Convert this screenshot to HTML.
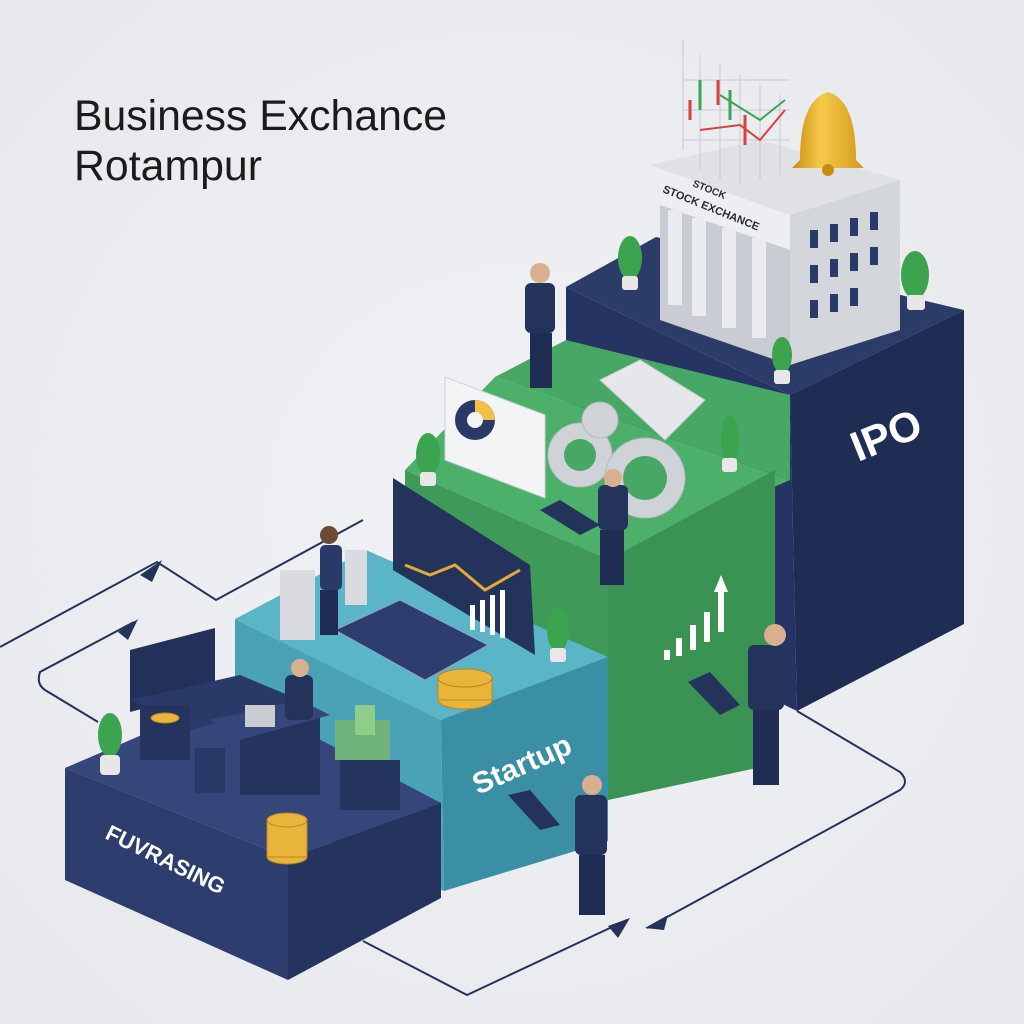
<!DOCTYPE html>
<html><head><meta charset="utf-8"><style>
html,body{margin:0;padding:0;background:#eceef2;}
svg{display:block}
</style></head><body>
<svg width="1024" height="1024" viewBox="0 0 1024 1024" xmlns="http://www.w3.org/2000/svg" font-family="Liberation Sans, sans-serif">
<defs>
<radialGradient id="bg" cx="50%" cy="50%" r="70%"><stop offset="0" stop-color="#f1f2f5"/><stop offset="1" stop-color="#e6e8ec"/></radialGradient>
<linearGradient id="bell" x1="0" x2="1"><stop offset="0" stop-color="#c98a10"/><stop offset=".4" stop-color="#f6c94a"/><stop offset="1" stop-color="#d39a1c"/></linearGradient>
</defs>
<rect width="1024" height="1024" fill="url(#bg)"/>
<text x="74" y="130" font-size="43" fill="#1b1b1d" textLength="373" lengthAdjust="spacingAndGlyphs">Business Exchance</text>
<text x="74" y="180" font-size="43" fill="#1b1b1d" textLength="188" lengthAdjust="spacingAndGlyphs">Rotampur</text>

<!-- connector lines -->
<g fill="none" stroke="#24335a" stroke-width="2">
<polyline points="0,647 157,562 216,600 363,520"/>
<path d="M98,722 L45,690 Q36,684 40,672 L134,622"/>
<polyline points="363,941 467,995 627,920"/>
<path d="M647,928 L900,790 Q910,782 900,772 L797,711"/>
</g>
<g fill="#24335a">
<polygon points="140,575 162,560 152,582"/>
<polygon points="118,632 138,619 128,640"/>
<polygon points="608,926 630,918 618,938"/>
<polygon points="645,928 668,915 664,930"/>
</g>

<!-- IPO navy block -->
<polygon points="566,287 656,237 964,310 790,395" fill="#2c3c68"/>
<polygon points="790,395 964,310 964,624 797,711" fill="#1f2c54"/>
<polygon points="566,287 790,395 797,711 566,600" fill="#253463"/>
<text x="0" y="0" font-size="42" font-weight="bold" fill="#fff" transform="translate(858,462) rotate(-22)">IPO</text>

<!-- green block -->
<polygon points="405,470 495,377 790,480 608,560" fill="#4caf6a"/>
<polygon points="495,377 566,340 790,395 790,480" fill="#47a764"/>
<polygon points="608,560 775,470 775,764 608,800" fill="#3a9253"/>
<polygon points="405,470 608,560 608,800 405,700" fill="#3f9a59"/>
<g fill="#fff"><rect x="664" y="650" width="6" height="10"/><rect x="676" y="638" width="6" height="18"/><rect x="690" y="625" width="6" height="25"/><rect x="704" y="612" width="6" height="30"/><rect x="718" y="590" width="6" height="42"/><polygon points="714,592 728,592 721,575"/></g>

<!-- teal block -->
<polygon points="235,619 366,550 608,657 441,720" fill="#5ab5c6"/>
<polygon points="441,720 608,657 608,841 444,891" fill="#3a8fa5"/>
<polygon points="235,619 441,720 444,891 235,800" fill="#4aa2b6"/>
<text x="0" y="0" font-size="30" font-weight="bold" fill="#fff" transform="translate(478,795) rotate(-24)">Startup</text>

<!-- fundraising navy block -->
<polygon points="65,768 235,695 441,803 288,858" fill="#34467a"/>
<polygon points="65,768 288,858 288,980 65,880" fill="#2d3e6e"/>
<polygon points="288,858 441,803 441,898 288,980" fill="#25345f"/>
<text x="0" y="0" font-size="22" font-weight="bold" fill="#fff" transform="translate(104,838) rotate(26)">FUVRASING</text>

<!-- desk scene -->
<polygon points="130,650 215,628 215,690 130,712" fill="#22305a"/>
<polygon points="130,700 240,675 300,700 190,730" fill="#2a3a68"/>
<rect x="140" y="705" width="50" height="55" fill="#25345f"/>
<rect x="240" y="715" width="80" height="80" fill="#25345f"/>
<polygon points="210,720 300,700 330,715 240,740" fill="#34467a"/>
<rect x="245" y="705" width="30" height="22" fill="#c9ccd3"/>
<rect x="285" y="675" width="28" height="45" rx="6" fill="#24335a"/>
<circle cx="300" cy="668" r="9" fill="#d9b08f"/>
<rect x="195" y="748" width="30" height="45" fill="#2a3a68"/>
<rect x="340" y="760" width="60" height="50" fill="#26355f"/>
<rect x="335" y="720" width="55" height="40" fill="#6fb27a"/>
<rect x="355" y="705" width="20" height="30" fill="#8fcd8b"/>
<g fill="#e8b53a" stroke="#b8861e" stroke-width="1">
<ellipse cx="287" cy="857" rx="20" ry="7"/><rect x="267" y="820" width="40" height="37"/><ellipse cx="287" cy="820" rx="20" ry="7"/>
<ellipse cx="465" cy="700" rx="27" ry="9"/><rect x="438" y="678" width="54" height="22"/><ellipse cx="465" cy="678" rx="27" ry="9"/>
<ellipse cx="165" cy="718" rx="14" ry="5"/>
</g>
<ellipse cx="110" cy="735" rx="12" ry="22" fill="#3ca34f"/><rect x="100" y="755" width="20" height="20" rx="4" fill="#e7e7e7"/>

<!-- teal-top items -->
<polygon points="393,478 530,565 535,655 393,570" fill="#24335a"/>
<polyline points="405,565 430,575 455,565 485,590 520,570" fill="none" stroke="#e3a93a" stroke-width="3"/>
<g fill="#fff"><rect x="470" y="605" width="5" height="25"/><rect x="480" y="600" width="5" height="32"/><rect x="490" y="595" width="5" height="40"/><rect x="500" y="590" width="5" height="48"/></g>
<polygon points="335,630 400,600 488,645 425,680" fill="#2d3e6e" stroke="#8ea3c8" stroke-width="1"/>
<rect x="280" y="570" width="35" height="70" fill="#d9dbe0"/>
<rect x="345" y="550" width="22" height="55" fill="#d9dbe0"/>
<rect x="320" y="545" width="22" height="45" rx="5" fill="#2a3a68"/>
<rect x="320" y="590" width="18" height="45" fill="#1f2c54"/>
<circle cx="329" cy="535" r="9" fill="#6b4a36"/>
<ellipse cx="558" cy="630" rx="11" ry="22" fill="#3ca34f"/><rect x="550" y="648" width="16" height="14" rx="3" fill="#e7e7e7"/>

<!-- green-top items -->
<polygon points="445,377 545,415 545,498 445,460" fill="#f3f4f6" stroke="#cfd2d8"/>
<circle cx="475" cy="420" r="20" fill="#2a3a68"/><path d="M475,400 A20,20 0 0 1 495,420 L475,420 Z" fill="#f2c14a"/><circle cx="475" cy="420" r="8" fill="#f3f4f6"/>
<g fill="#cfd2d6" stroke="#b5b9c0"><circle cx="580" cy="455" r="32"/><circle cx="645" cy="478" r="40"/><circle cx="600" cy="420" r="18"/></g>
<circle cx="580" cy="455" r="16" fill="#47a764"/><circle cx="645" cy="478" r="22" fill="#47a764"/>
<polygon points="600,380 640,360 705,400 665,440" fill="#e6e7ea" stroke="#c5c8ce"/>
<ellipse cx="428" cy="455" rx="12" ry="22" fill="#3ca34f"/><rect x="420" y="472" width="16" height="14" rx="3" fill="#e7e7e7"/>
<ellipse cx="730" cy="440" rx="9" ry="25" fill="#3ca34f"/><rect x="722" y="458" width="15" height="14" rx="3" fill="#e7e7e7"/>
<rect x="598" y="485" width="30" height="45" rx="6" fill="#24335a"/><rect x="600" y="530" width="24" height="55" fill="#1f2c54"/><circle cx="613" cy="478" r="9" fill="#d9b08f"/>
<polygon points="540,510 560,500 600,525 580,535" fill="#24335a"/>

<!-- people -->
<rect x="525" y="283" width="30" height="50" rx="6" fill="#24335a"/><rect x="530" y="333" width="22" height="55" fill="#1f2c54"/><circle cx="540" cy="273" r="10" fill="#d9b08f"/>
<rect x="748" y="645" width="36" height="65" rx="6" fill="#24335a"/><rect x="753" y="710" width="26" height="75" fill="#1f2c54"/><circle cx="775" cy="635" r="11" fill="#d9b08f"/>
<polygon points="688,682 710,672 740,705 720,715" fill="#24335a"/>
<rect x="575" y="795" width="32" height="60" rx="6" fill="#24335a"/><rect x="579" y="855" width="26" height="60" fill="#1f2c54"/><circle cx="592" cy="785" r="10" fill="#d9b08f"/>
<polygon points="508,795 530,790 560,825 540,830" fill="#24335a"/>

<!-- building -->
<g>
<polygon points="650,165 760,140 900,180 790,215" fill="#dfe1e5"/>
<polygon points="660,170 790,215 790,250 660,205" fill="#eceef1"/>
<polygon points="790,215 900,180 900,330 790,365" fill="#d3d6db"/>
<polygon points="660,205 790,250 790,365 660,320" fill="#c9ccd2"/>
<g fill="#e9ebee"><rect x="668" y="210" width="14" height="95"/><rect x="692" y="218" width="14" height="98"/><rect x="722" y="228" width="14" height="100"/><rect x="752" y="238" width="14" height="100"/></g>
<g fill="#2a3a68"><rect x="810" y="230" width="8" height="18"/><rect x="830" y="224" width="8" height="18"/><rect x="850" y="218" width="8" height="18"/><rect x="870" y="212" width="8" height="18"/><rect x="810" y="265" width="8" height="18"/><rect x="830" y="259" width="8" height="18"/><rect x="850" y="253" width="8" height="18"/><rect x="870" y="247" width="8" height="18"/><rect x="810" y="300" width="8" height="18"/><rect x="830" y="294" width="8" height="18"/><rect x="850" y="288" width="8" height="18"/></g>
<text font-size="10" font-weight="bold" fill="#2b2b2b" transform="translate(692,186) rotate(22)">STOCK</text>
<text font-size="11" font-weight="bold" fill="#2b2b2b" transform="translate(662,192) rotate(22)">STOCK EXCHANCE</text>
</g>
<g stroke="#c7cad0" stroke-width="1" fill="none"><path d="M683,40 V150 M700,55 V170 M720,65 V180 M740,75 V185 M760,85 V180 M780,95 V175 M683,80 H790 M683,110 H790 M683,140 H790"/></g>
<g stroke-width="3"><line x1="690" y1="100" x2="690" y2="120" stroke="#d94040"/><line x1="700" y1="80" x2="700" y2="110" stroke="#3aa655"/><line x1="718" y1="80" x2="718" y2="105" stroke="#d94040"/><line x1="730" y1="90" x2="730" y2="120" stroke="#3aa655"/><line x1="745" y1="115" x2="745" y2="145" stroke="#d94040"/></g>
<polyline points="700,130 740,125 760,140 785,110" fill="none" stroke="#d94040" stroke-width="2"/>
<polyline points="720,95 760,120 785,100" fill="none" stroke="#3aa655" stroke-width="2"/>
<path d="M800,160 Q800,100 828,92 Q856,100 856,160 L864,168 L792,168 Z" fill="url(#bell)"/>
<circle cx="828" cy="170" r="6" fill="#c98a10"/>
<ellipse cx="630" cy="258" rx="12" ry="22" fill="#3ca34f"/><rect x="622" y="276" width="16" height="14" rx="3" fill="#e7e7e7"/>
<ellipse cx="915" cy="275" rx="14" ry="24" fill="#3ca34f"/><rect x="907" y="295" width="18" height="15" rx="3" fill="#e7e7e7"/>
<ellipse cx="782" cy="355" rx="10" ry="18" fill="#3ca34f"/><rect x="774" y="370" width="16" height="14" rx="3" fill="#e7e7e7"/>
</svg>
</body></html>
